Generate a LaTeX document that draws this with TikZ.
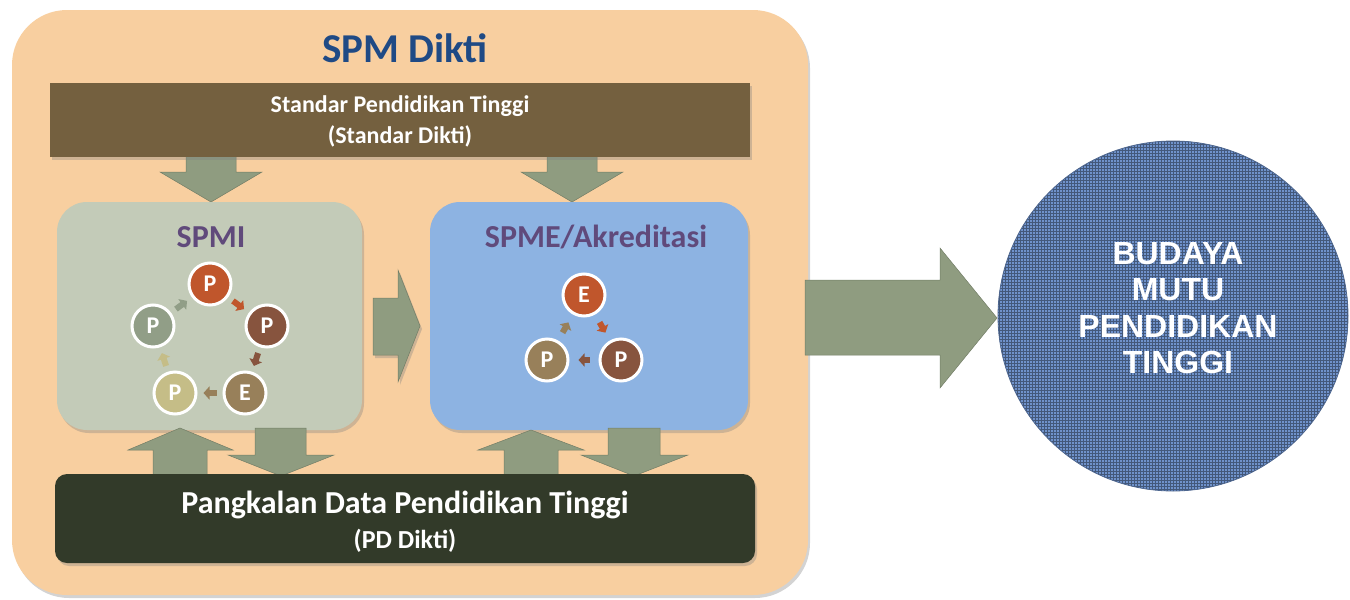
\documentclass[tikz,border=0pt]{standalone}
\usepackage{fontspec}
\setmainfont{Carlito}
\newfontfamily\arialfont{Liberation Sans}
\usetikzlibrary{shadows,arrows.meta,patterns}

\definecolor{peach}{HTML}{F8CFA0}
\definecolor{barbrown}{HTML}{74603F}
\definecolor{bardark}{HTML}{323A29}
\definecolor{spmigreen}{HTML}{C3CBB8}
\definecolor{spmeblue}{HTML}{8DB3E2}
\definecolor{arrgreen}{HTML}{8F9C80}
\definecolor{titleblue}{HTML}{1F4A85}
\definecolor{titlepurple}{HTML}{604A7B}
\definecolor{cycorange}{HTML}{C0562C}
\definecolor{cycbrown}{HTML}{87543E}
\definecolor{cyctan}{HTML}{98805A}
\definecolor{cycbeige}{HTML}{C5BD87}
\definecolor{cycgrey}{HTML}{919E87}
\definecolor{circblue}{HTML}{6F92CB}

\begin{document}
\begin{tikzpicture}[x=1pt,y=-1pt,
    boxshadow/.style={drop shadow={opacity=0.35,shadow xshift=2pt,shadow yshift=-3pt}},
    blockarr/.style={fill=arrgreen,draw=arrgreen!80!black,line width=0.5pt},
    ring/.style={circle,draw=white,line width=3pt,minimum size=42pt,inner sep=0pt,
        text=white,font=\bfseries\fontsize{24}{24}\selectfont},
    cyc/.style={line width=6pt,-{Triangle[length=6pt,width=13pt]},shorten <=6pt,shorten >=6pt},
    boxtitle/.style={text=titlepurple,font=\bfseries\fontsize{32}{34}\selectfont}]
\useasboundingbox (0,0) rectangle (1350,600);

% outer box
\fill[peach,boxshadow,rounded corners=55pt] (12,10) rectangle (808,595);
\node[text=titleblue,font=\bfseries\fontsize{41}{44}\selectfont] (spmdikti) at (405,48) {SPM Dikti};

% arrows below the standard
\fill[blockarr] (186,155) -- (236,155) -- (236,172) -- (262,172) -- (211,202) -- (160,172) -- (186,172) -- cycle;
\fill[blockarr] (547,155) -- (597,155) -- (597,172) -- (623,172) -- (572,202) -- (521,172) -- (547,172) -- cycle;

% standar dikti
\fill[barbrown,boxshadow] (50,83) rectangle (750,157);
\node[text=white,font=\bfseries\fontsize{24}{31}\selectfont,align=center] (standar) at (400,121)
    {Standar Pendidikan Tinggi\\(Standar Dikti)};

% spmi and spme
\fill[spmigreen,boxshadow,rounded corners=30pt] (57,202) rectangle (362,430);
\fill[spmeblue,boxshadow,rounded corners=30pt] (430,202) rectangle (748,430);
\node[boxtitle] (spmi) at (211,237) {SPMI};
\node[boxtitle] (spme) at (596,237) {SPME/Akreditasi};

% spmi cycle
\node[ring,fill=cycorange] (i1) at (210,284) {P};
\node[ring,fill=cycbrown]  (i2) at (267,326) {P};
\node[ring,fill=cyctan]    (i3) at (245,393) {E};
\node[ring,fill=cycbeige]  (i4) at (175,393) {P};
\node[ring,fill=cycgrey]   (i5) at (153,326) {P};
\draw[cyc,cycorange] (i1) -- (i2);
\draw[cyc,cycbrown]  (i2) -- (i3);
\draw[cyc,cyctan]    (i3) -- (i4);
\draw[cyc,cycbeige]  (i4) -- (i5);
\draw[cyc,cycgrey]   (i5) -- (i1);

% spme cycle
\node[ring,fill=cycorange] (e1) at (584,295) {E};
\node[ring,fill=cycbrown]  (e2) at (621,360) {P};
\node[ring,fill=cyctan]    (e3) at (547,360) {P};
\draw[cyc,cycorange,shorten <=9pt,shorten >=9pt] (e1) -- (e2);
\draw[cyc,cycbrown,shorten <=9pt,shorten >=9pt]  (e2) -- (e3);
\draw[cyc,cyctan,shorten <=9pt,shorten >=9pt]    (e3) -- (e1);

% arrow spmi -> spme
\fill[blockarr,boxshadow] (373,298) -- (398,298) -- (398,270) -- (420,326) -- (398,382) -- (398,355) -- (373,355) -- cycle;

% arrows to and from pd dikti
\fill[blockarr] (153,476) -- (153,450) -- (128,450) -- (180,428) -- (233,450) -- (207,450) -- (207,476) -- cycle;
\fill[blockarr] (255,428) -- (306,428) -- (306,455) -- (334,455) -- (281,476) -- (228,455) -- (255,455) -- cycle;
\fill[blockarr] (504,476) -- (504,450) -- (478,450) -- (531,430) -- (584,450) -- (558,450) -- (558,476) -- cycle;
\fill[blockarr] (608,428) -- (660,428) -- (660,455) -- (688,455) -- (634,476) -- (581,455) -- (608,455) -- cycle;

% pd dikti
\fill[bardark,boxshadow,rounded corners=12pt] (55,474) rectangle (755,563);
\node[text=white,font=\bfseries\fontsize{32}{34}\selectfont] (pddikti) at (405,505) {Pangkalan Data Pendidikan Tinggi};
\node[text=white,font=\bfseries\fontsize{26}{28}\selectfont] (pdsingkat) at (405,541) {(PD Dikti)};

% arrow to budaya mutu
\fill[blockarr] (805,280) -- (940,280) -- (940,248) -- (997,318) -- (940,388) -- (940,355) -- (805,355) -- cycle;

% budaya mutu
\fill[circblue] (1173,316) circle (175);
\fill[pattern=grid,pattern color=circblue!60!black,fill opacity=0.3] (1173,316) circle (175);
\draw[circblue!70!black,line width=0.8pt] (1173,316) circle (175);
\node[text=white,font=\arialfont\bfseries\fontsize{32}{36.5}\selectfont,align=center] (budaya) at (1178,308)
    {BUDAYA\\MUTU\\PENDIDIKAN\\TINGGI};
\end{tikzpicture}
\end{document}
